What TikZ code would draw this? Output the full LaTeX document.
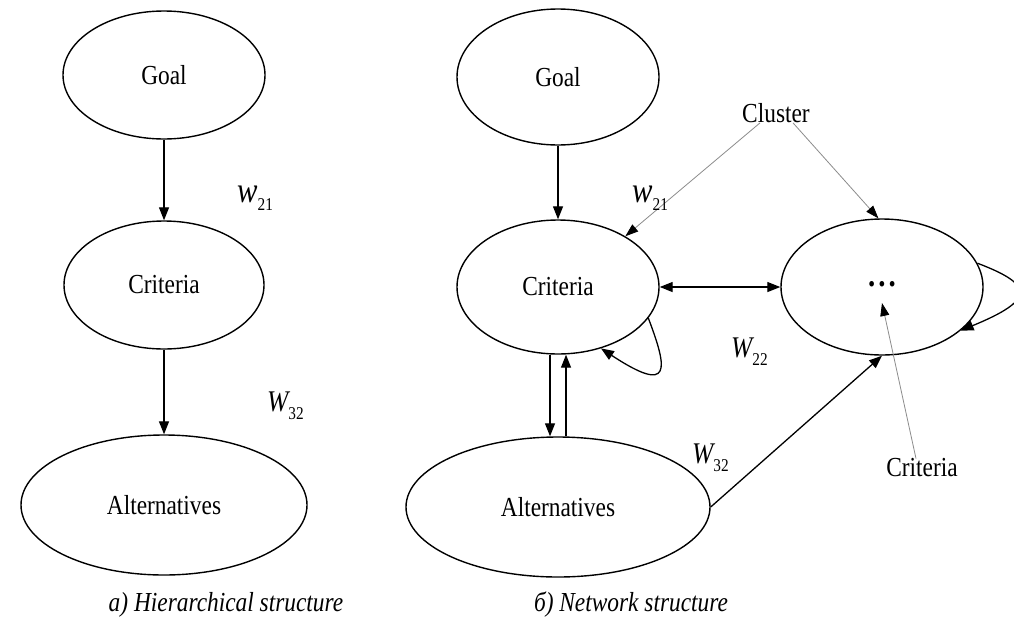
\documentclass[tikz,border=0pt]{standalone}
\usepackage{fontspec}
\setmainfont[FakeStretch=0.85]{Liberation Serif}
\usetikzlibrary{arrows.meta,shapes.geometric,calc}
\newcommand\wlab[3]{{\fontsize{#1}{#1}\selectfont\itshape #2}\raisebox{-8pt}{\fontsize{18}{18}\selectfont #3}}
\begin{document}
\begin{tikzpicture}[x=1pt,y=-1pt,
  ell/.style={draw,ellipse,line width=1.4pt,inner sep=0pt,font=\fontsize{27.5}{32}\selectfont},
  conn/.style={line width=1.3pt,-{Triangle[length=13pt,width=10pt]}},
  dconn/.style={line width=1.3pt,{Triangle[length=13pt,width=10pt]}-{Triangle[length=13pt,width=10pt]}},
  pointer/.style={draw=black!45,line width=0.8pt,-{Triangle[length=13pt,width=9pt,color=black]}},
  lab/.style={inner sep=0pt,font=\fontsize{27.5}{32}\selectfont},
  wl/.style={inner sep=0pt,anchor=base west},
  captext/.style={inner sep=0pt,font=\fontsize{27.5}{32}\selectfont\itshape}]
\useasboundingbox (0,0) rectangle (1014,635);
\clip (0,0) rectangle (1014,635);
\fill[white] (0,0) rectangle (1014,635);

% left: hierarchical
\node[ell,minimum width=202pt,minimum height=128pt] (g1) at (164,75) {Goal};
\node[ell,minimum width=200pt,minimum height=128pt] (c1) at (164,285) {Criteria};
\node[ell,minimum width=286pt,minimum height=140pt] (a1) at (164,505) {Alternatives};
\draw[conn] (g1.south) -- (c1.north);
\draw[conn] (c1.south) -- (a1.north);
\node[wl] (w21a) at (237,202) {\wlab{36}{w}{21}};
\node[wl] (w32a) at (267,411) {\wlab{30}{W}{32}};

% right: network
\node[ell,minimum width=202pt,minimum height=136pt] (g2) at (558,77) {Goal};
\node[ell,minimum width=202pt,minimum height=134pt] (c2) at (558,287) {Criteria};
\node[ell,minimum width=304pt,minimum height=140pt] (a2) at (558,507) {Alternatives};
\node[ell,minimum width=202pt,minimum height=136pt] (d2) at (882,287) {};
\node[inner sep=0pt,font=\fontsize{34}{34}\selectfont\bfseries] (dots) at (882,284) {.\hspace{3pt}.\hspace{3pt}.};

\draw[conn] (g2.south) -- (c2.north);
\draw[conn] ([xshift=-8pt]c2.south) -- ([xshift=-8pt]a2.north);
\draw[conn] ([xshift=8pt]a2.north) -- ([xshift=8pt]c2.south);
\draw[dconn] (c2.east) -- (d2.west);
\draw[conn] (c2.341) .. controls (668,370) and (672,395) .. (c2.305);
\draw[conn] (d2.14) .. controls (1035,285) and (1035,300) .. (d2.331);
\draw[conn] (a2.east) -- (d2.south);

\node[lab] (cluster) at (776,113) {Cluster};
\draw[pointer] ([xshift=-16pt]cluster.south) -- (c2.37);
\draw[pointer] ([xshift=17pt]cluster.south) -- (d2.93);

\node[lab] (critlab) at (922,468) {Criteria};
\draw[pointer] ([xshift=-6pt]critlab.north) -- ([yshift=-16pt]d2.center);

\node[wl] (w21b) at (632,202) {\wlab{36}{w}{21}};
\node[wl] (w22b) at (731,357) {\wlab{30}{W}{22}};
\node[wl] (w32b) at (692,463) {\wlab{30}{W}{32}};

% captions
\node[captext] (capa) at (226,605) {a) Hierarchical structure};
\node[captext] (capb) at (631,605) {б) Network structure};
\end{tikzpicture}
\end{document}
